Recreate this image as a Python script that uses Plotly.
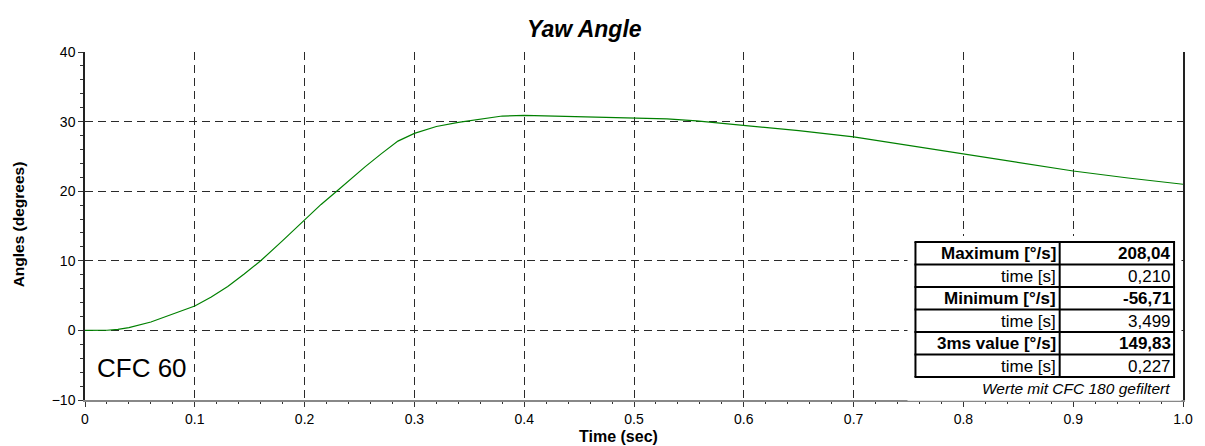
import plotly.graph_objects as go

# ---- data ----
time_s = [0.0, 0.01, 0.02, 0.03, 0.04, 0.06, 0.08, 0.10, 0.115, 0.13, 0.145, 0.16, 0.18,
          0.20, 0.215, 0.23, 0.24, 0.255, 0.27, 0.285, 0.30, 0.32, 0.34, 0.36, 0.38,
          0.40, 0.43, 0.46, 0.50, 0.53, 0.557, 0.60, 0.65, 0.70, 0.75, 0.80, 0.85,
          0.90, 0.95, 1.0]
yaw_deg = [0.0, 0.0, 0.02, 0.15, 0.4, 1.2, 2.3, 3.5, 4.8, 6.3, 8.1, 10.0, 12.9,
           15.9, 18.1, 20.1, 21.5, 23.5, 25.4, 27.2, 28.3, 29.3, 29.9, 30.4, 30.8,
           30.9, 30.8, 30.7, 30.6, 30.4, 30.1, 29.5, 28.7, 27.8, 26.6, 25.4, 24.1,
           22.9, 21.9, 21.0]

x_ticks = [0, 0.1, 0.2, 0.3, 0.4, 0.5, 0.6, 0.7, 0.8, 0.9, 1.0]
x_tick_labels = ["0", "0.1", "0.2", "0.3", "0.4", "0.5", "0.6", "0.7", "0.8", "0.9", "1.0"]
y_ticks = [-10, 0, 10, 20, 30, 40]

table_labels = ["Maximum [°/s]", "time [s]", "Minimum [°/s]", "time [s]",
                "3ms value [°/s]", "time [s]"]
table_values = ["208,04", "0,210", "-56,71", "3,499", "149,83", "0,227"]
table_bold = [True, False, True, False, True, False]

# ---- geometry helpers (pixel -> paper) ----
L, R, T, B = 85, 1189, 52, 400
W, H = R - L, B - T
def px(x):
    return (x - L) / W
def py(y):
    return (B - y) / H

FONT = "Liberation Sans, Arial, sans-serif"

fig = go.Figure()
fig.add_trace(go.Scatter(x=time_s, y=yaw_deg, mode="lines",
                         line=dict(color="#008000", width=1.2),
                         showlegend=False, hoverinfo="skip"))

fig.update_layout(
    width=1205, height=446,
    margin=dict(l=L, r=1205 - R, t=T, b=446 - B),
    paper_bgcolor="white", plot_bgcolor="white",
    font=dict(family=FONT, size=14, color="black"),
    xaxis=dict(range=[0, 1.0], tickvals=x_ticks, ticktext=x_tick_labels,
               showgrid=True, gridcolor="#2a2a2a", griddash="8px,5px", gridwidth=1.2,
               showline=True, linecolor="#888888", linewidth=2,
               ticks="outside", ticklen=5, tickcolor="#333333",
               minor=dict(dtick=0.02, ticks="outside", ticklen=2, tickcolor="#333333", showgrid=False),
               zeroline=False, tickfont=dict(size=14)),
    yaxis=dict(range=[-10, 40], tickvals=y_ticks,
               showgrid=True, gridcolor="#2a2a2a", griddash="8px,5px", gridwidth=1.2,
               showline=True, linecolor="#222222", linewidth=1.5, mirror=True,
               ticks="outside", ticklen=5, tickcolor="#333333",
               minor=dict(dtick=2, ticks="outside", ticklen=3, tickcolor="#333333", showgrid=False),
               zeroline=False, tickfont=dict(size=14)),
)

annotations = [
    dict(text="<b><i>Yaw Angle</i></b>", x=px(587), y=py(29), xref="paper", yref="paper",
         showarrow=False, font=dict(size=23, family=FONT), xanchor="center", yanchor="middle"),
    dict(text="<b>Angles (degrees)</b>", x=px(19), y=py(224), xref="paper", yref="paper",
         showarrow=False, textangle=-90, font=dict(size=15.5, family=FONT),
         xanchor="center", yanchor="middle"),
    dict(text="<b>Time (sec)</b>", x=px(621), y=py(436), xref="paper", yref="paper",
         showarrow=False, font=dict(size=16, family=FONT), xanchor="center", yanchor="middle"),
    dict(text="CFC 60", x=px(95), y=py(368), xref="paper", yref="paper",
         showarrow=False, font=dict(size=26, family=FONT), xanchor="left", yanchor="middle"),
]

shapes = []
# white box behind table
shapes.append(dict(type="rect", xref="paper", yref="paper",
                   x0=px(912), x1=px(1187.5), y0=py(400.8), y1=py(236),
                   fillcolor="white", line=dict(width=0), layer="above"))

tx0, tmid, tx1 = 920, 1065, 1180
ty0, row_h = 242, 22.5
n = len(table_labels)
for i in range(n + 1):
    yy = ty0 + i * row_h
    shapes.append(dict(type="line", xref="paper", yref="paper", x0=px(tx0 - 1), x1=px(tx1 + 1),
                       y0=py(yy), y1=py(yy), line=dict(color="black", width=2), layer="above"))
for xx in (tx0, tmid, tx1):
    shapes.append(dict(type="line", xref="paper", yref="paper", x0=px(xx), x1=px(xx),
                       y0=py(ty0), y1=py(ty0 + n * row_h), line=dict(color="black", width=2),
                       layer="above"))

for i, (lab, val, bold) in enumerate(zip(table_labels, table_values, table_bold)):
    yc = ty0 + (i + 0.5) * row_h + 0.5
    lt = f"<b>{lab}</b>" if bold else lab
    vt = f"<b>{val}</b>" if bold else val
    annotations.append(dict(text=lt, x=px(tmid - 2), y=py(yc), xref="paper", yref="paper",
                            showarrow=False, xanchor="right", yanchor="middle",
                            font=dict(size=17, family=FONT)))
    annotations.append(dict(text=vt, x=px(tx1 - 1), y=py(yc), xref="paper", yref="paper",
                            showarrow=False, xanchor="right", yanchor="middle",
                            font=dict(size=17, family=FONT)))

annotations.append(dict(text="<i>Werte mit CFC 180 gefiltert</i>", x=px(1178), y=py(388),
                        xref="paper", yref="paper", showarrow=False, xanchor="right",
                        yanchor="middle", font=dict(size=15.5, family=FONT)))

fig.update_layout(annotations=annotations, shapes=shapes)
fig.write_html("out.html")
